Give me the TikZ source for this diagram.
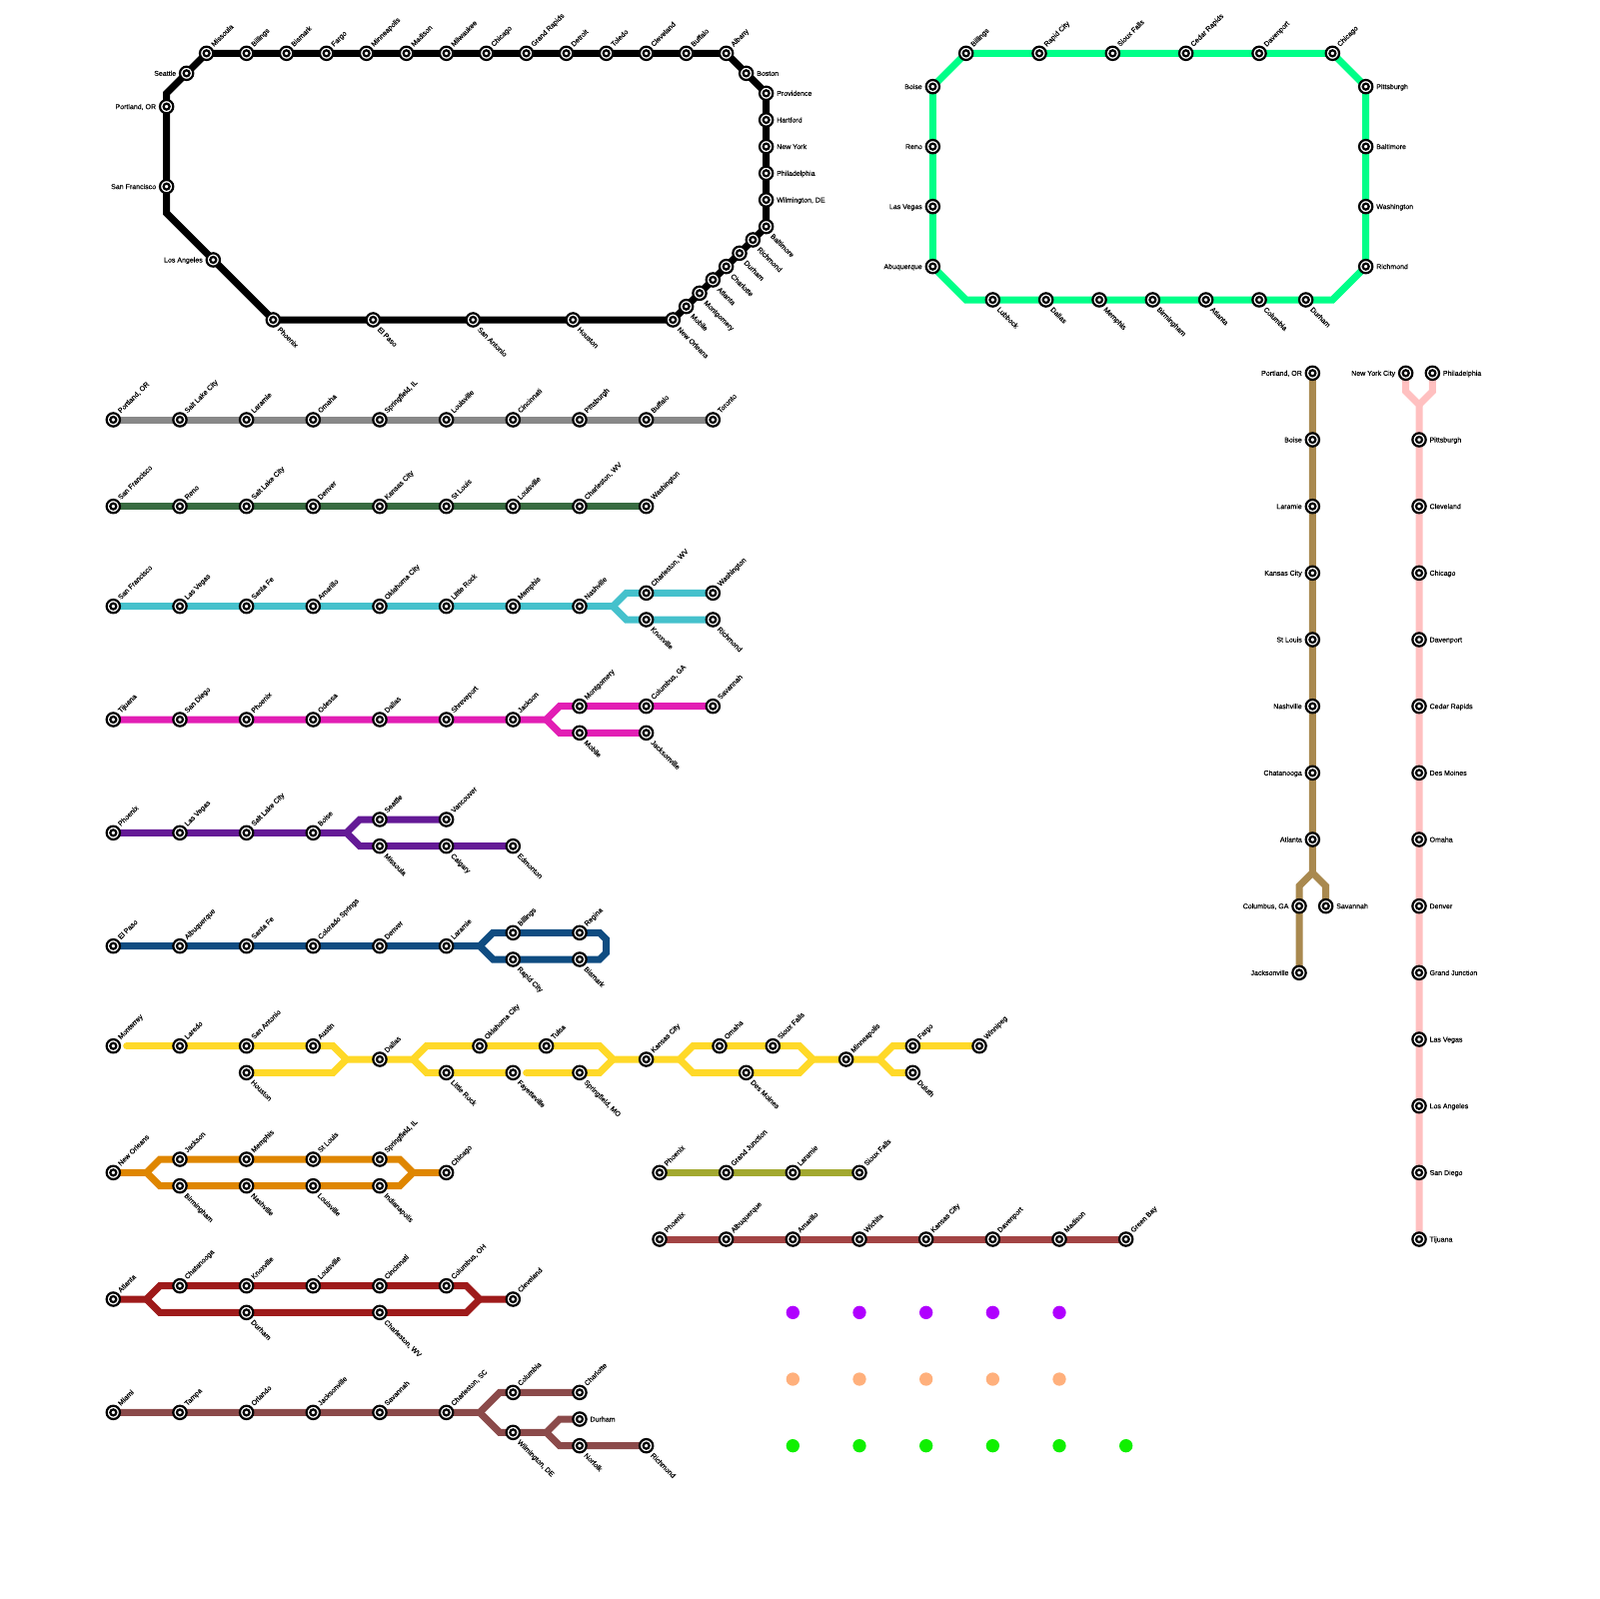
\documentclass[tikz,border=0pt]{standalone}
\usepackage{fontspec}
\setmainfont{Liberation Sans}
\newfontfamily\lblfont[FakeBold=.25]{Liberation Sans}
\usetikzlibrary{backgrounds}
\definecolor{lgray}{HTML}{888888}
\definecolor{lforest}{HTML}{386B41}
\definecolor{lcyan}{HTML}{45C1CC}
\definecolor{lmagenta}{HTML}{E21EB4}
\definecolor{lpurple}{HTML}{641A96}
\definecolor{lblue}{HTML}{0F4C81}
\definecolor{lyellow}{HTML}{FFD928}
\definecolor{lorange}{HTML}{DF8600}
\definecolor{lolive}{HTML}{A2A82F}
\definecolor{lrust}{HTML}{A24444}
\definecolor{lred}{HTML}{9E1A1A}
\definecolor{lbrown}{HTML}{8B4A4A}
\definecolor{ltan}{HTML}{A9894F}
\definecolor{lpink}{HTML}{FFC0C0}
\definecolor{lmint}{HTML}{00FF88}
\definecolor{dotpurple}{HTML}{B000FF}
\definecolor{dotpeach}{HTML}{FFB07C}
\definecolor{dotgreen}{HTML}{10F000}
\tikzset{
  stn/.style={circle, draw=black, fill=white, line width=.33mm, minimum size=2mm,
              inner sep=0pt, path picture={\draw[line width=.33mm]
              (path picture bounding box.center) circle (.45mm);}},
  lbl/.style={font=\lblfont\fontsize{3}{3.6}\selectfont, inner sep=0pt, text height=2.15pt,
              text depth=0pt, text=black},
  lne/.style={label={[lbl,rotate=45,anchor=west,label distance=.35mm]45:#1}},
  lse/.style={label={[lbl,rotate=-45,anchor=west,label distance=.4mm]-45:#1}},
  le/.style={label={[lbl,anchor=west,label distance=.35mm]0:#1}},
  lw/.style={label={[lbl,anchor=east,label distance=.35mm]180:#1}},
  metro/.style={line width=1.05mm},
  dot/.style={circle, inner sep=0pt, minimum size=2mm},
}
\begin{document}
\begin{tikzpicture}[x=1mm,y=-1mm]
  \useasboundingbox (0,0) rectangle (240,240);
  % long black loop
  \foreach \nm/\x/\txt in {Missoula/31/Missoula,Billings/37/Billings,Bismark/43/Bismark,Fargo/49/Fargo,
    Minneapolis/55/Minneapolis,Madison/61/Madison,Milwaukee/67/Milwaukee,Chicago/73/Chicago,
    GrandRapids/79/Grand Rapids,Detroit/85/Detroit,Toledo/91/Toledo,Cleveland/97/Cleveland,
    Buffalo/103/Buffalo,Albany/109/Albany}
    \node[stn,lne=\txt] (bk\nm) at (\x,8) {};
  \node[stn,le=Boston] (bkBoston) at (112,11) {};
  \foreach \nm/\y/\txt in {Providence/14/Providence,Hartford/18/Hartford,NewYork/22/New York,
    Philadelphia/26/Philadelphia,Wilmington/30/{Wilmington, DE}}
    \node[stn,le=\txt] (bk\nm) at (115,\y) {};
  \foreach \nm/\x/\y/\txt in {Baltimore/115/34/Baltimore,Richmond/113/36/Richmond,Durham/111/38/Durham,
    Charlotte/109/40/Charlotte,Atlanta/107/42/Atlanta,Montgomery/105/44/Montgomery,Mobile/103/46/Mobile,
    NewOrleans/101/48/New Orleans,Houston/86/48/Houston,SanAntonio/71/48/San Antonio,ElPaso/56/48/El Paso,
    Phoenix/41/48/Phoenix}
    \node[stn,lse=\txt] (bk\nm) at (\x,\y) {};
  \foreach \nm/\x/\y/\txt in {LosAngeles/32/39/Los Angeles,SanFrancisco/25/28/San Francisco,
    Portland/25/16/{Portland, OR},Seattle/28/11/Seattle}
    \node[stn,lw=\txt] (bk\nm) at (\x,\y) {};
  \coordinate (bkBendS) at (25,32);
  \coordinate (bkBendN) at (25,14);

  % mint loop
  \foreach \nm/\x/\txt in {Billings/145/Billings,RapidCity/156/Rapid City,SiouxFalls/167/Sioux Falls,
    CedarRapids/178/Cedar Rapids,Davenport/189/Davenport,Chicago/200/Chicago}
    \node[stn,lne=\txt] (mt\nm) at (\x,8) {};
  \foreach \nm/\y/\txt in {Pittsburgh/13/Pittsburgh,Baltimore/22/Baltimore,Washington/31/Washington,
    Richmond/40/Richmond}
    \node[stn,le=\txt] (mt\nm) at (205,\y) {};
  \foreach \nm/\x/\txt in {Lubbock/149/Lubbock,Dallas/157/Dallas,Memphis/165/Memphis,Birmingham/173/Birmingham,
    Atlanta/181/Atlanta,Columbia/189/Columbia,Durham/196/Durham}
    \node[stn,lse=\txt] (mt\nm) at (\x,45) {};
  \foreach \nm/\y/\txt in {Boise/13/Boise,Reno/22/Reno,LasVegas/31/Las Vegas,Abuquerque/40/Abuquerque}
    \node[stn,lw=\txt] (mt\nm) at (140,\y) {};
  \coordinate (mtBendSE) at (200,45);
  \coordinate (mtBendSW) at (145,45);

  % gray
  \foreach \nm/\x/\txt in {Portland/17/{Portland, OR},SaltLake/27/Salt Lake City,Laramie/37/Laramie,Omaha/47/Omaha,
    Springfield/57/{Springfield, IL},Louisville/67/Louisville,Cincinnati/77/Cincinnati,Pittsburgh/87/Pittsburgh,
    Buffalo/97/Buffalo,Toronto/107/Toronto}
    \node[stn,lne=\txt] (gy\nm) at (\x,63) {};

  % forest
  \foreach \nm/\x/\txt in {SanFrancisco/17/San Francisco,Reno/27/Reno,SaltLake/37/Salt Lake City,Denver/47/Denver,
    KansasCity/57/Kansas City,StLouis/67/St Louis,Louisville/77/Louisville,Charleston/87/{Charleston, WV},
    Washington/97/Washington}
    \node[stn,lne=\txt] (fr\nm) at (\x,76) {};

  % cyan
  \foreach \nm/\x/\y/\txt in {SanFrancisco/17/91/San Francisco,LasVegas/27/91/Las Vegas,SantaFe/37/91/Santa Fe,
    Amarillo/47/91/Amarillo,OklahomaCity/57/91/Oklahoma City,LittleRock/67/91/Little Rock,Memphis/77/91/Memphis,
    Nashville/87/91/Nashville,Charleston/97/89/{Charleston, WV},Washington/107/89/Washington}
    \node[stn,lne=\txt] (cy\nm) at (\x,\y) {};
  \node[stn,lse=Knoxville] (cyKnoxville) at (97,93) {};
  \node[stn,lse=Richmond] (cyRichmond) at (107,93) {};
  \coordinate (cyFork) at (92,91);

  % magenta
  \foreach \nm/\x/\y/\txt in {Tijuana/17/108/Tijuana,SanDiego/27/108/San Diego,Phoenix/37/108/Phoenix,
    Odessa/47/108/Odessa,Dallas/57/108/Dallas,Shreveport/67/108/Shreveport,Jackson/77/108/Jackson,
    Montgomery/87/106/Montgomery,Columbus/97/106/{Columbus, GA},Savannah/107/106/Savannah}
    \node[stn,lne=\txt] (mg\nm) at (\x,\y) {};
  \node[stn,lse=Mobile] (mgMobile) at (87,110) {};
  \node[stn,lse=Jacksonville] (mgJacksonville) at (97,110) {};
  \coordinate (mgFork) at (82,108);

  % purple
  \foreach \nm/\x/\y/\txt in {Phoenix/17/125/Phoenix,LasVegas/27/125/Las Vegas,SaltLake/37/125/Salt Lake City,
    Boise/47/125/Boise,Seattle/57/123/Seattle,Vancouver/67/123/Vancouver}
    \node[stn,lne=\txt] (pp\nm) at (\x,\y) {};
  \foreach \nm/\x/\txt in {Missoula/57/Missoula,Calgary/67/Calgary,Edmonton/77/Edmonton}
    \node[stn,lse=\txt] (pp\nm) at (\x,127) {};
  \coordinate (ppFork) at (52,125);

  % blue
  \foreach \nm/\x/\y/\txt in {ElPaso/17/142/El Paso,Albuquerque/27/142/Albuquerque,SantaFe/37/142/Santa Fe,
    Colorado/47/142/Colorado Springs,Denver/57/142/Denver,Laramie/67/142/Laramie,Billings/77/140/Billings,
    Regina/87/140/Regina}
    \node[stn,lne=\txt] (bl\nm) at (\x,\y) {};
  \node[stn,lse=Rapid City] (blRapidCity) at (77,144) {};
  \node[stn,lse=Bismark] (blBismark) at (87,144) {};
  \coordinate (blFork) at (72,142);

  % yellow
  \foreach \nm/\x/\y/\txt in {Monterrey/17/157/Monterrey,Laredo/27/157/Laredo,SanAntonio/37/157/San Antonio,
    Austin/47/157/Austin,Dallas/57/159/Dallas,OklahomaCity/72/157/Oklahoma City,Tulsa/82/157/Tulsa,
    KansasCity/97/159/Kansas City,Omaha/108/157/Omaha,SiouxFalls/116/157/Sioux Falls,
    Minneapolis/127/159/Minneapolis,Fargo/137/157/Fargo,Winnipeg/147/157/Winnipeg}
    \node[stn,lne=\txt] (yl\nm) at (\x,\y) {};
  \foreach \nm/\x/\txt in {Houston/37/Houston,LittleRock/67/Little Rock,Fayetteville/77/Fayetteville,
    Springfield/87/{Springfield, MO},DesMoines/112/Des Moines,Duluth/137/Duluth}
    \node[stn,lse=\txt] (yl\nm) at (\x,161) {};
  \coordinate (ylStartA) at (19,157);
  \coordinate (ylStartB) at (79,161);

  % orange
  \foreach \nm/\x/\y/\txt in {NewOrleans/17/176/New Orleans,Jackson/27/174/Jackson,Memphis/37/174/Memphis,
    StLouis/47/174/St Louis,Springfield/57/174/{Springfield, IL},Chicago/67/176/Chicago}
    \node[stn,lne=\txt] (or\nm) at (\x,\y) {};
  \foreach \nm/\x/\txt in {Birmingham/27/Birmingham,Nashville/37/Nashville,Louisville/47/Louisville,
    Indianapolis/57/Indianapolis}
    \node[stn,lse=\txt] (or\nm) at (\x,178) {};

  % olive
  \foreach \nm/\x/\txt in {Phoenix/99/Phoenix,GrandJunction/109/Grand Junction,Laramie/119/Laramie,
    SiouxFalls/129/Sioux Falls}
    \node[stn,lne=\txt] (ol\nm) at (\x,176) {};

  % rust
  \foreach \nm/\x/\txt in {Phoenix/99/Phoenix,Albuquerque/109/Albuquerque,Amarillo/119/Amarillo,Wichita/129/Wichita,
    KansasCity/139/Kansas City,Davenport/149/Davenport,Madison/159/Madison,GreenBay/169/Green Bay}
    \node[stn,lne=\txt] (rs\nm) at (\x,186) {};

  % dark red
  \foreach \nm/\x/\y/\txt in {Atlanta/17/195/Atlanta,Chatanooga/27/193/Chatanooga,Knoxville/37/193/Knoxville,
    Louisville/47/193/Louisville,Cincinnati/57/193/Cincinnati,Columbus/67/193/{Columbus, OH},Cleveland/77/195/Cleveland}
    \node[stn,lne=\txt] (rd\nm) at (\x,\y) {};
  \node[stn,lse=Durham] (rdDurham) at (37,197) {};
  \node[stn,lse={Charleston, WV}] (rdCharleston) at (57,197) {};

  % brown
  \foreach \nm/\x/\y/\txt in {Miami/17/212/Miami,Tampa/27/212/Tampa,Orlando/37/212/Orlando,
    Jacksonville/47/212/Jacksonville,Savannah/57/212/Savannah,Charleston/67/212/{Charleston, SC},
    Columbia/77/209/Columbia,Charlotte/87/209/Charlotte}
    \node[stn,lne=\txt] (br\nm) at (\x,\y) {};
  \node[stn,le=Durham] (brDurham) at (87,213) {};
  \foreach \nm/\x/\y/\txt in {Wilmington/77/215/{Wilmington, DE},Norfolk/87/217/Norfolk,Richmond/97/217/Richmond}
    \node[stn,lse=\txt] (br\nm) at (\x,\y) {};

  % tan
  \foreach \nm/\x/\y/\txt in {Portland/197/56/{Portland, OR},Boise/197/66/Boise,Laramie/197/76/Laramie,
    KansasCity/197/86/Kansas City,StLouis/197/96/St Louis,Nashville/197/106/Nashville,
    Chatanooga/197/116/Chatanooga,Atlanta/197/126/Atlanta,Columbus/195/136/{Columbus, GA},
    Jacksonville/195/146/Jacksonville}
    \node[stn,lw=\txt] (tn\nm) at (\x,\y) {};
  \node[stn,le=Savannah] (tnSavannah) at (199,136) {};

  % pink
  \node[stn,lw=New York City] (pkNewYork) at (211,56) {};
  \node[stn,le=Philadelphia] (pkPhiladelphia) at (215,56) {};
  \foreach \nm/\y/\txt in {Pittsburgh/66/Pittsburgh,Cleveland/76/Cleveland,Chicago/86/Chicago,Davenport/96/Davenport,
    CedarRapids/106/Cedar Rapids,DesMoines/116/Des Moines,Omaha/126/Omaha,Denver/136/Denver,
    GrandJunction/146/Grand Junction,LasVegas/156/Las Vegas,LosAngeles/166/Los Angeles,SanDiego/176/San Diego,
    Tijuana/186/Tijuana}
    \node[stn,le=\txt] (pk\nm) at (213,\y) {};

  % loose dots
  \foreach \x in {119,129,139,149,159} {
    \node[dot,fill=dotpurple] (dp\x) at (\x,197) {};
    \node[dot,fill=dotpeach] (dc\x) at (\x,207) {};
  }
  \foreach \x in {119,129,139,149,159,169}
    \node[dot,fill=dotgreen] (dg\x) at (\x,217) {};

  \begin{scope}[on background layer]
    \draw[metro,black] (bkMissoula.center) -- (bkAlbany.center) -- (bkProvidence.center) -- (bkBaltimore.center)
      -- (bkNewOrleans.center) -- (bkPhoenix.center) -- (bkBendS) -- (bkBendN) -- cycle;
    \draw[metro,lmint] (mtBillings.center) -- (mtChicago.center) -- (mtPittsburgh.center) -- (mtRichmond.center)
      -- (mtBendSE) -- (mtBendSW) -- (mtAbuquerque.center) -- (mtBoise.center) -- cycle;
    \draw[metro,lgray] (gyPortland.center) -- (gyToronto.center);
    \draw[metro,lforest] (frSanFrancisco.center) -- (frWashington.center);
    \draw[metro,lcyan] (cySanFrancisco.center) -- (cyFork) -- ++(2,-2) -- (cyWashington.center);
    \draw[metro,lcyan] (cyFork) -- ++(2,2) -- (cyRichmond.center);
    \draw[metro,lmagenta] (mgTijuana.center) -- (mgFork) -- ++(2,-2) -- (mgSavannah.center);
    \draw[metro,lmagenta] (mgFork) -- ++(2,2) -- (mgJacksonville.center);
    \draw[metro,lpurple] (ppPhoenix.center) -- (ppFork) -- ++(2,-2) -- (ppVancouver.center);
    \draw[metro,lpurple] (ppFork) -- ++(2,2) -- (ppEdmonton.center);
    \draw[metro,lblue] (blElPaso.center) -- (blFork) -- ++(2,-2) -- (blRegina.center) -- ++(3,0) -- ++(1,1)
      -- ++(0,2) -- ++(-1,1) -- (blBismark.center) -- (blRapidCity.center) -- ++(-3,0) -- (blFork);
    \draw[metro,lyellow,line cap=round] (ylStartA) -- (ylLaredo.center);
    \draw[metro,lyellow] (ylLaredo.center) -- (ylAustin.center) -- ++(3,0) -- ++(2,2) -- ++(10,0) coordinate (ylForkA)
      -- ++(2,-2) -- (ylTulsa.center) -- ++(8,0) -- ++(2,2) coordinate (ylMergeA) -- (ylKansasCity.center)
      -- ++(5,0) coordinate (ylForkB) -- ++(2,-2) -- (ylSiouxFalls.center) -- ++(4,0) -- ++(2,2) coordinate (ylMergeB)
      -- (ylMinneapolis.center) -- ++(5,0) coordinate (ylForkC) -- ++(2,-2) -- (ylWinnipeg.center);
    \draw[metro,lyellow] (ylHouston.center) -- ++(13,0) -- ++(2,-2);
    \draw[metro,lyellow] (ylForkA) -- ++(2,2) -- (ylFayetteville.center);
    \draw[metro,lyellow,line cap=round] (ylStartB) -- (ylSpringfield.center);
    \draw[metro,lyellow] (ylSpringfield.center) -- ++(3,0) -- (ylMergeA);
    \draw[metro,lyellow] (ylForkB) -- ++(2,2) -- ++(16,0) -- (ylMergeB);
    \draw[metro,lyellow] (ylForkC) -- ++(2,2) -- (ylDuluth.center);
    \draw[metro,lorange] (orNewOrleans.center) -- ++(5,0) coordinate (orFork) -- ++(2,-2) -- (orSpringfield.center)
      -- ++(3,0) -- ++(2,2) coordinate (orMerge) -- (orChicago.center);
    \draw[metro,lorange] (orFork) -- ++(2,2) -- (orIndianapolis.center) -- ++(3,0) -- (orMerge);
    \draw[metro,lolive] (olPhoenix.center) -- (olSiouxFalls.center);
    \draw[metro,lrust] (rsPhoenix.center) -- (rsGreenBay.center);
    \draw[metro,lred] (rdAtlanta.center) -- ++(5,0) coordinate (rdFork) -- ++(2,-2) -- (rdColumbus.center)
      -- ++(3,0) -- ++(2,2) coordinate (rdMerge) -- (rdCleveland.center);
    \draw[metro,lred] (rdFork) -- ++(2,2) -- ++(46,0) -- (rdMerge);
    \draw[metro,lbrown] (brMiami.center) -- (brCharleston.center) -- ++(5,0) coordinate (brFork) -- ++(3,-3)
      -- (brCharlotte.center);
    \draw[metro,lbrown] (brFork) -- ++(3,3) -- (brWilmington.center) -- ++(5,0) coordinate (brForkB) -- ++(2,-2)
      -- (brDurham.center);
    \draw[metro,lbrown] (brForkB) -- ++(2,2) -- (brRichmond.center);
    \draw[metro,ltan] (tnPortland.center) -- (tnAtlanta.center) -- ++(0,5) coordinate (tnFork) -- ++(-2,2)
      -- (tnJacksonville.center);
    \draw[metro,ltan] (tnFork) -- ++(2,2) -- (tnSavannah.center);
    \draw[metro,lpink] (pkNewYork.center) -- ++(0,2.75) -- ++(2,2) coordinate (pkFork) -- (pkTijuana.center);
    \draw[metro,lpink] (pkPhiladelphia.center) -- ++(0,2.75) -- (pkFork);
  \end{scope}
\end{tikzpicture}
\end{document}
